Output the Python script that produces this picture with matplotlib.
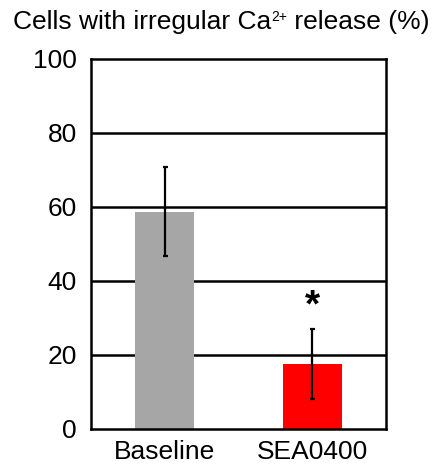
import matplotlib
matplotlib.use("Agg")
import matplotlib.pyplot as plt

plt.rcParams['font.family'] = ['Liberation Sans', 'DejaVu Sans']

categories = ["Baseline", "SEA0400"]
values = [58.7, 17.5]
errors = [12.0, 9.4]
colors = ["#A6A6A6", "#FF0000"]
yticks = [0, 20, 40, 60, 80, 100]
title_parts = ["Cells with irregular Ca", "2+", " release (%)"]

fig = plt.figure(figsize=(4.38, 4.76), dpi=100)
ax = fig.add_axes([91/438, 1-429/476, (386-91)/438, (429-59)/476])

x = list(range(len(categories)))
ax.bar(x, values, width=0.4, color=colors, zorder=2)
ax.errorbar(x, values, yerr=errors, fmt='none', ecolor='black',
            elinewidth=1.6, capsize=1.8, capthick=1.6, zorder=3)

ax.set_xlim(-0.5, 1.5)
ax.set_ylim(0, 100)
ax.set_yticks(yticks)
ax.set_yticklabels([str(t) for t in yticks])
ax.set_xticks(x)
ax.set_xticklabels(categories)
ax.tick_params(axis='both', length=0, labelsize=19)
ax.tick_params(axis='y', pad=10)
ax.tick_params(axis='x', pad=8)
for g in [20, 40, 60, 80]:
    ax.axhline(g, color='black', linewidth=1.8, zorder=1)
for s in ax.spines.values():
    s.set_linewidth(1.8)
    s.set_color('black')

ax.text(1, 33.2, "*", ha='center', va='center', fontsize=28, fontweight='bold')

# title built from pieces so the superscript sits tight like the reference
renderer = fig.canvas.get_renderer()
sizes = [19, 10, 19]
raise_px = [0, 8.6, 0]
base_y = 476 - 29.5  # baseline in pixels from bottom
texts = []
widths = []
for part, sz in zip(title_parts, sizes):
    t = fig.text(0, 0, part, fontsize=sz, ha='left', va='baseline')
    bb = t.get_window_extent(renderer)
    widths.append(bb.width)
    texts.append(t)
total = sum(widths)
cur = 221 - total / 2
for t, w, r in zip(texts, widths, raise_px):
    t.set_position((cur / 438, (base_y + r) / 476))
    cur += w

fig.savefig("out.png", dpi=100)
